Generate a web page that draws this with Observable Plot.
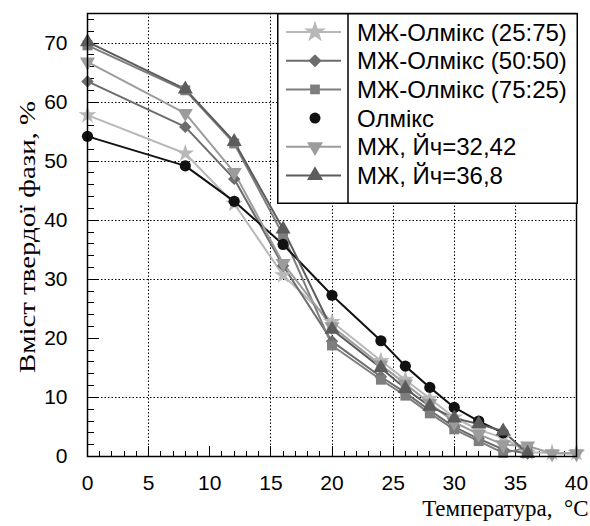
<!DOCTYPE html>
<html><head><meta charset="utf-8">
<script src="https://cdn.jsdelivr.net/npm/d3@7"></script>
<script src="https://cdn.jsdelivr.net/npm/@observablehq/plot@0.6"></script>
<style>
body{margin:0;background:#fff;}
#wrap{position:relative;width:590px;height:526px;overflow:hidden;background:#fff;}
#under{position:absolute;left:0;top:0;z-index:0;}
#wrap > svg.chart{position:absolute;left:0;top:0;z-index:1;background:transparent !important;}
#legend{position:absolute;left:277px;top:13px;z-index:2;}
</style></head>
<body><div id="wrap"></div>
<script>
// ---- data ----
const temps = [0, 8, 12, 16, 20, 24, 26, 28, 30, 32, 34, 36, 38, 40];
const seriesNames = ["МЖ-Олмікс (25:75)", "МЖ-Олмікс (50:50)", "МЖ-Олмікс (75:25)", "Олмікс", "МЖ, Йч=32,42", "МЖ, Йч=36,8"];
const mix2575 = [57.8, 51.3, 42.8, 30.7, 22.8, 16.2, 13.0, 9.8, 6.6, 4.5, 3.2, 0.7, 0.6, 0.6];
const mix5050 = [63.5, 55.8, 47.0, 32.3, 19.5, 13.5, 10.8, 7.8, 5.0, 3.0, 1.2, 0.5];
const mix7525 = [69.6, 62.0, 53.0, 37.5, 18.8, 13.0, 10.3, 7.3, 4.6, 2.6, 0.6, 1.5];
const olmix = [54.2, 49.2, 43.2, 35.9, 27.3, 19.6, 15.3, 11.7, 8.3, 6.0, 4.0];
const mzh3242 = [66.8, 58.1, 48.1, 32.7, 22.0, 15.5, 12.3, 9.0, 5.8, 3.8, 2.0, 1.8, 0.5, 0.5];
const mzh368 = [70.2, 62.2, 53.3, 38.5, 21.5, 15.0, 11.5, 8.5, 6.5, 5.5, 4.3, 0.5];
const allValues = [mix2575, mix5050, mix7525, olmix, mzh3242, mzh368];
const seriesColors = ["#b8b8b8", "#6c6c6c", "#7e7e7e", "#111111", "#9c9c9c", "#5c5c5c"];
const xTickLabels = [0, 5, 10, 15, 20, 25, 30, 35, 40];
const yTickLabels = [0, 10, 20, 30, 40, 50, 60, 70];
const xGrid = [5, 15, 20, 25, 30, 35];
const yGrid = [10, 30, 40, 50, 60, 70];
const yLabel = "Вміст твердої фази, %";
const xLabel = "Температура,  °C";

const triangleDown = {
  draw(context, size) {
    const y = -Math.sqrt(size / (Math.sqrt(3) * 3));
    context.moveTo(0, -y * 2);
    context.lineTo(-Math.sqrt(3) * y, y);
    context.lineTo(Math.sqrt(3) * y, y);
    context.closePath();
  }
};
const seriesSymbols = [d3.symbolStar, d3.symbolDiamond2, d3.symbolSquare, d3.symbolCircle, triangleDown, d3.symbolTriangle];
const symbolSizes = [150, 110, 95, 95, 110, 110];

const rows = [];
seriesNames.forEach((name, s) => {
  allValues[s].forEach((v, i) => rows.push({series: name, t: temps[i], v}));
});

const minorX = d3.range(0, 41, 1).filter(d => d % 5 !== 0);
const minorY = d3.range(0, 75, 2).filter(d => d % 10 !== 0);

const W = 590, H = 526, mL = 87, mR = 14, mT = 13, mB = 70;
const serif = "'Liberation Serif', 'Times New Roman', serif";

const chart = Plot.plot({
  className: "chart",
  width: W,
  height: H,
  marginLeft: mL,
  marginRight: mR,
  marginTop: mT,
  marginBottom: mB,
  style: {fontFamily: "'Liberation Sans', Arial, sans-serif", fontSize: "21px", color: "#000", background: "transparent"},
  x: {domain: [0, 40]},
  y: {domain: [0, 75]},
  color: {domain: seriesNames, range: seriesColors},
  symbol: {domain: seriesNames, range: seriesSymbols},
  marks: [
    Plot.axisX({ticks: xTickLabels, anchor: "bottom", tickSize: 0, tickPadding: 19, fontSize: 21, label: null}),
    Plot.axisY({ticks: yTickLabels, anchor: "left", tickSize: 0, tickPadding: 20, fontSize: 21, label: null}),
    Plot.line(rows, {x: "t", y: "v", z: "series", stroke: "series", strokeWidth: 2}),
    Plot.dot(rows, {x: "t", y: "v", symbol: "series", fill: "series", r: 5.6}),
    Plot.frame({stroke: "#000", strokeWidth: 1.5}),
    Plot.text([yLabel], {frameAnchor: "left", textAnchor: "middle", rotate: -90, dx: -60, dy: 2, fontFamily: serif, fontSize: 24}),
    Plot.text([xLabel], {frameAnchor: "bottom-right", textAnchor: "end", dx: 12, dy: 59, fontFamily: serif, fontSize: 23})
  ]
});

const wrap = document.getElementById("wrap");
wrap.appendChild(chart);
chart.classList.add("chart");
d3.select(chart).selectAll("text").filter(function() { return this.textContent === yLabel; })
  .attr("textLength", 272).attr("lengthAdjust", "spacingAndGlyphs");

// ---- grid lines and inward ticks, positioned with the chart's own scales ----
const sxd = chart.scale("x"), syd = chart.scale("y");
const X = d3.scaleLinear().domain(sxd.domain).range(sxd.range || [mL, W - mR]);
const Y = d3.scaleLinear().domain(syd.domain).range(syd.range || [H - mB, mT]);
const x0 = X(0), x1 = X(40), y0 = Y(0), y1 = Y(75);
const px = v => Math.round(v) + 0.5;
const under = d3.select(wrap).insert("svg", ":first-child").attr("id", "under")
  .attr("width", W).attr("height", H);
let gridD = "";
xGrid.forEach(d => { gridD += `M${px(X(d))},${y1}V${y0}`; });
yGrid.forEach(d => { gridD += `M${x0},${px(Y(d))}H${x1}`; });
under.append("path").attr("d", gridD).attr("fill", "none").attr("stroke", "#000")
  .attr("stroke-width", 1).attr("stroke-dasharray", "1.5,2");
let tickD = "";
[[minorX, 5], [xTickLabels, 10]].forEach(([vals, len]) => vals.forEach(d => { tickD += `M${px(X(d))},${y0}v${-len}`; }));
[[minorY, 7], [yTickLabels, 12]].forEach(([vals, len]) => vals.forEach(d => { tickD += `M${x0},${px(Y(d))}h${len}`; }));
under.append("path").attr("d", tickD).attr("fill", "none").attr("stroke", "#000").attr("stroke-width", 1);

// ---- legend (inside plot frame, top-right) ----
const lw = 300, lh = 190, rowH = 28.7, firstRow = 19;
const leg = d3.select(wrap).append("svg").attr("id", "legend").attr("width", lw + 2).attr("height", lh + 2);
leg.append("rect").attr("x", 0.75).attr("y", 0.75).attr("width", lw - 0.5).attr("height", lh - 0.5)
  .attr("fill", "#fff").attr("stroke", "#000").attr("stroke-width", 1.5);
leg.append("line").attr("x1", 71).attr("x2", 71).attr("y1", 0).attr("y2", lh).attr("stroke", "#000").attr("stroke-width", 1.5);
seriesNames.forEach((name, i) => {
  const cy = firstRow + i * rowH;
  const g = leg.append("g");
  if (name !== "Олмікс") {
    g.append("line").attr("x1", 9).attr("x2", 64).attr("y1", cy).attr("y2", cy)
      .attr("stroke", seriesColors[i]).attr("stroke-width", 2);
  }
  g.append("path").attr("transform", `translate(38,${cy})`)
    .attr("d", d3.symbol(seriesSymbols[i], symbolSizes[i])())
    .attr("fill", seriesColors[i]);
  g.append("text").attr("x", 80).attr("y", cy).attr("dy", "0.36em")
    .attr("font-family", "'Liberation Sans', Arial, sans-serif").attr("font-size", 24)
    .text(name);
});
</script>
</body></html>
